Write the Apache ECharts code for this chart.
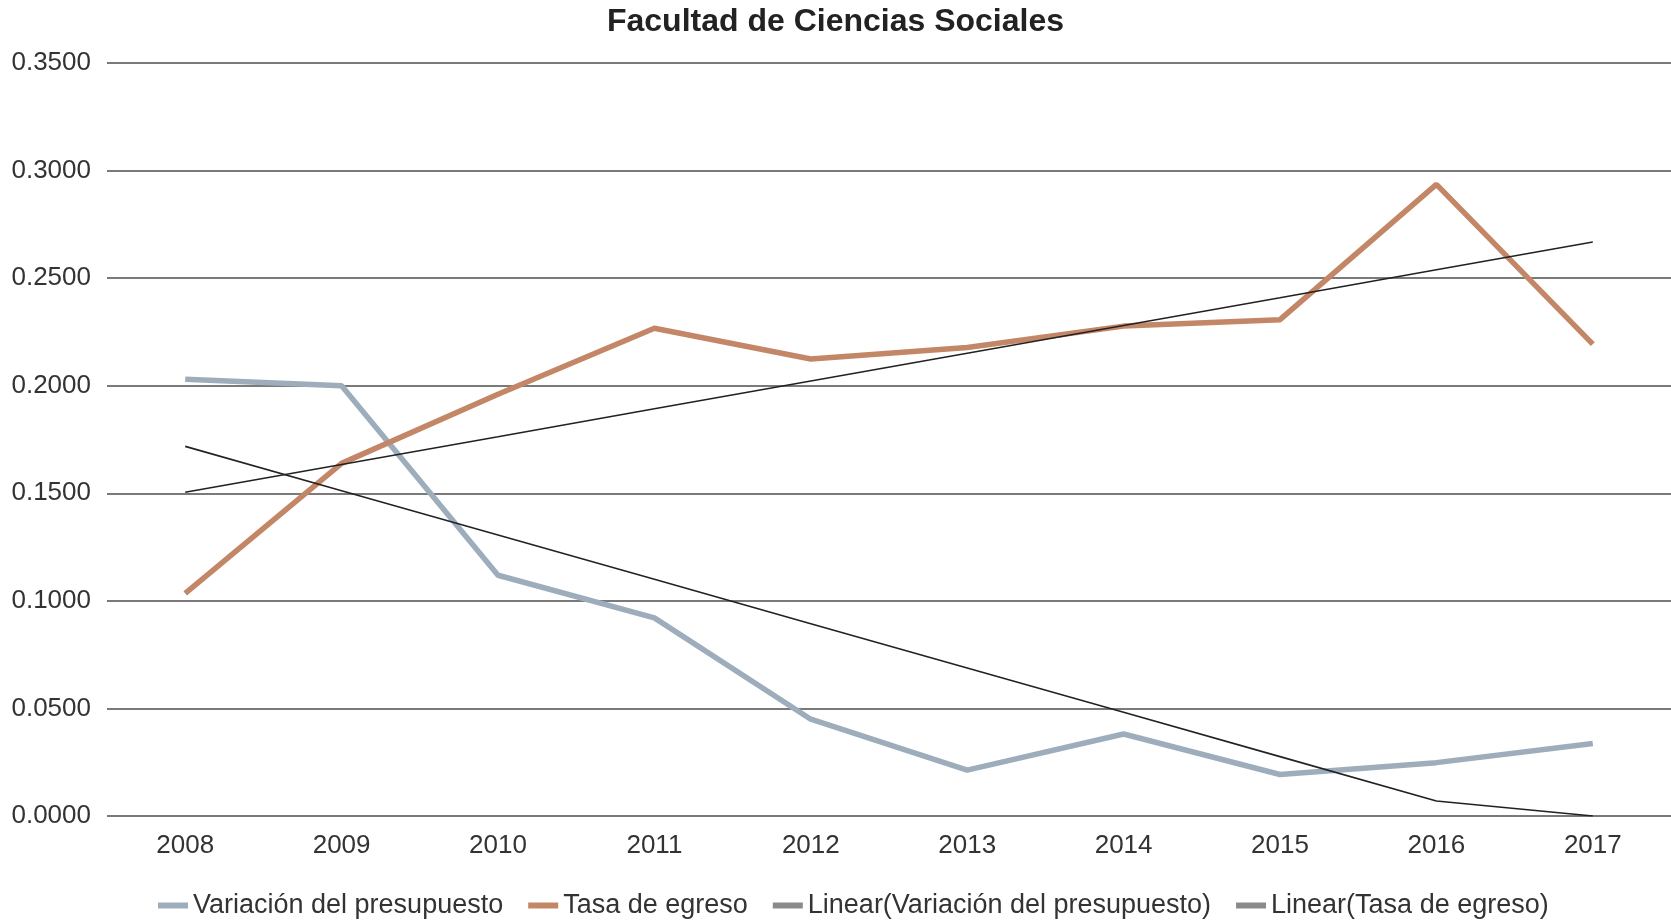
<!DOCTYPE html>
<html>
<head>
<meta charset="utf-8">
<script src="https://cdn.jsdelivr.net/npm/echarts@6/dist/echarts.min.js"></script>
<style>
  html, body { margin: 0; padding: 0; background: #fff; }
  #chart { width: 1671px; height: 923px; }
</style>
</head>
<body>
<div id="chart"></div>
<script>
// datos
var years = ['2008', '2009', '2010', '2011', '2012', '2013', '2014', '2015', '2016', '2017'];
var variacion = [0.2030, 0.2000, 0.1119, 0.0921, 0.0450, 0.0213, 0.0381, 0.0193, 0.0248, 0.0337];
var tasa = [0.1035, 0.1639, 0.1960, 0.2267, 0.2124, 0.2178, 0.2277, 0.2307, 0.2936, 0.2193];
var linearVariacion = [0.1718, 0.1512, 0.1306, 0.1100, 0.0894, 0.0688, 0.0482, 0.0276, 0.0070, 0.0000];
var linearTasa = [0.1505, 0.1634, 0.1763, 0.1893, 0.2022, 0.2151, 0.2280, 0.2409, 0.2539, 0.2668];
var names = ['Variación del presupuesto', 'Tasa de egreso', 'Linear(Variación del presupuesto)', 'Linear(Tasa de egreso)'];

var myChart = echarts.init(document.getElementById('chart'));

var option = {
    animation: false,
    title: {
        text: 'Facultad de Ciencias Sociales',
        left: 'center',
        top: 4,
        padding: [2, 0, 0, 10],
        textStyle: { fontFamily: 'Liberation Sans', fontWeight: 'bold', fontSize: 32, color: '#222' }
    },
    legend: {
        left: 153,
        top: 887,
        itemWidth: 30,
        itemHeight: 6,
        itemGap: 25,
        textStyle: { fontFamily: 'Liberation Sans', fontSize: 27, color: '#333' },
        data: [
            { name: names[0], icon: 'rect' },
            { name: names[1], icon: 'rect' },
            { name: names[2], icon: 'rect' },
            { name: names[3], icon: 'rect' }
        ]
    },
    grid: { left: 107, right: 0, top: 63, bottom: 107 },
    xAxis: {
        type: 'category',
        data: years,
        boundaryGap: true,
        axisLine: { show: false },
        axisTick: { show: false },
        axisLabel: { fontFamily: 'Liberation Sans', fontSize: 26, color: '#333', margin: 17 }
    },
    yAxis: {
        type: 'value',
        min: 0,
        max: 0.35,
        interval: 0.05,
        axisLine: { show: false },
        axisTick: { show: false },
        axisLabel: {
            fontFamily: 'Liberation Sans', fontSize: 26, color: '#333', margin: 16,
            formatter: function (v) { return v.toFixed(4); }
        },
        splitLine: { lineStyle: { color: '#7a7a7a', width: 2 } }
    },
    series: [
        {
            name: names[0], type: 'line', data: variacion, symbol: 'none',
            itemStyle: { color: '#9dadbc' },
            lineStyle: { width: 5.5, color: '#9dadbc' }, z: 3
        },
        {
            name: names[1], type: 'line', data: tasa, symbol: 'none',
            itemStyle: { color: '#c38767' },
            lineStyle: { width: 5.5, color: '#c38767' }, z: 3
        },
        {
            name: names[2], type: 'line', data: linearVariacion, symbol: 'none',
            itemStyle: { color: '#8a8a8a' },
            lineStyle: { width: 1.6, color: '#222' }, z: 4
        },
        {
            name: names[3], type: 'line', data: linearTasa, symbol: 'none',
            itemStyle: { color: '#8a8a8a' },
            lineStyle: { width: 1.6, color: '#222' }, z: 4
        }
    ]
};

myChart.setOption(option);
</script>
</body>
</html>
